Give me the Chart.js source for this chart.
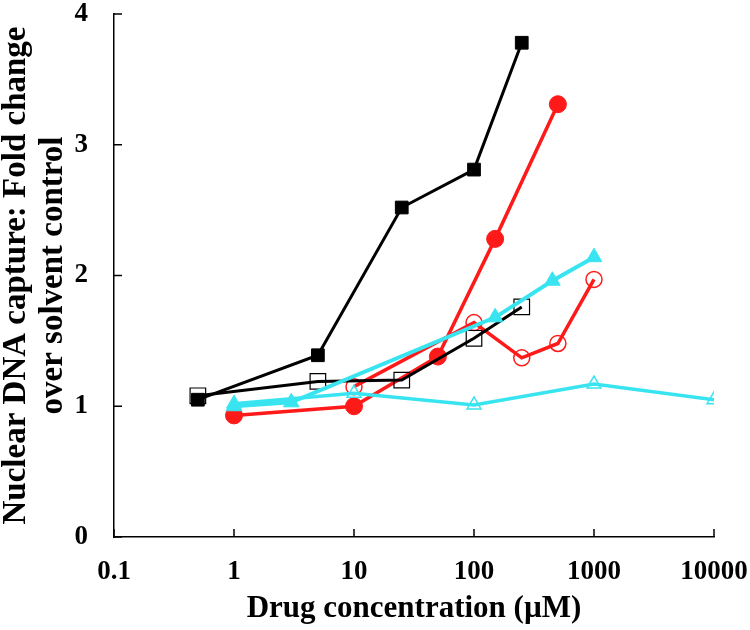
<!DOCTYPE html>
<html>
<head>
<meta charset="utf-8">
<script src="https://cdn.jsdelivr.net/npm/chart.js@4"></script>
<style>
  html, body { margin: 0; padding: 0; background: #fff; }
  #wrap { width: 750px; height: 630px; }
</style>
</head>
<body>
<div id="wrap"><canvas id="dnaChart" width="750" height="630"></canvas></div>
<script>
// Data
const xTicks = [0.1, 1, 10, 100, 1000, 10000];

const blackFilledX = [0.5, 5, 25, 100, 250];
const blackFilledY = [1.05, 1.39, 2.52, 2.81, 3.78];

const blackOpenX = [0.5, 5, 25, 100, 250];
const blackOpenY = [1.08, 1.19, 1.20, 1.52, 1.76];

const redFilledX = [1, 10, 50, 150, 500];
const redFilledY = [0.93, 1.00, 1.38, 2.28, 3.31];

const redOpenX = [10, 100, 250, 500, 1000];
const redOpenY = [1.15, 1.64, 1.37, 1.48, 1.97];

const cyanFilledX = [1, 3, 150, 450, 1000];
const cyanFilledY = [1.00, 1.03, 1.68, 1.96, 2.14];

const cyanOpenX = [1, 10, 100, 1000, 10000];
const cyanOpenY = [1.02, 1.10, 1.01, 1.17, 1.05];

const CYAN = "#38e4f0";
const RED = "#ff1a1a";
const FONT = "Liberation Serif";

function pts(xs, ys) {
  return xs.map((x, i) => ({ x: x, y: ys[i] }));
}

// short inward tick marks, like the original plot
const innerTicks = {
  id: "innerTicks",
  afterDraw(chart) {
    const ctx = chart.ctx;
    const xs = chart.scales.x;
    const ys = chart.scales.y;
    ctx.save();
    ctx.strokeStyle = "#000";
    ctx.lineWidth = 1.5;
    xTicks.forEach((v) => {
      const px = xs.getPixelForValue(v);
      ctx.beginPath();
      ctx.moveTo(px, ys.bottom);
      ctx.lineTo(px, ys.bottom - 8);
      ctx.stroke();
    });
    ys.ticks.forEach((t) => {
      const py = ys.getPixelForValue(t.value);
      ctx.beginPath();
      ctx.moveTo(xs.left, py);
      ctx.lineTo(xs.left + 8, py);
      ctx.stroke();
    });
    ctx.restore();
  },
};

const ctx = document.getElementById("dnaChart").getContext("2d");

new Chart(ctx, {
  type: "line",
  data: {
    datasets: [
      {
        data: pts(cyanOpenX, cyanOpenY),
        borderColor: CYAN,
        borderWidth: 3.5,
        pointStyle: "triangle",
        pointRadius: 8,
        pointBorderWidth: 1.5,
        pointBorderColor: CYAN,
        pointBackgroundColor: "rgba(0,0,0,0)",
      },
      {
        data: pts(cyanFilledX, cyanFilledY),
        borderColor: CYAN,
        borderWidth: 4,
        pointStyle: "triangle",
        pointRadius: 9,
        pointBorderWidth: 1,
        pointBorderColor: CYAN,
        pointBackgroundColor: CYAN,
      },
      {
        data: pts(blackOpenX, blackOpenY),
        borderColor: "#000",
        borderWidth: 3,
        pointStyle: "rect",
        pointRadius: 11,
        pointBorderWidth: 1.2,
        pointBorderColor: "#000",
        pointBackgroundColor: "rgba(0,0,0,0)",
      },
      {
        data: pts(blackFilledX, blackFilledY),
        borderColor: "#000",
        borderWidth: 3,
        pointStyle: "rect",
        pointRadius: 9,
        pointBorderWidth: 1,
        pointBorderColor: "#000",
        pointBackgroundColor: "#000",
      },
      {
        data: pts(redOpenX, redOpenY),
        borderColor: RED,
        borderWidth: 3.5,
        pointStyle: "circle",
        pointRadius: 8,
        pointBorderWidth: 1.5,
        pointBorderColor: RED,
        pointBackgroundColor: "rgba(0,0,0,0)",
      },
      {
        data: pts(redFilledX, redFilledY),
        borderColor: RED,
        borderWidth: 3.5,
        pointStyle: "circle",
        pointRadius: 8.5,
        pointBorderWidth: 1,
        pointBorderColor: RED,
        pointBackgroundColor: RED,
      },
    ],
  },
  options: {
    responsive: false,
    animation: false,
    layout: { padding: { top: 14, right: 36, left: 0, bottom: 0 } },
    plugins: {
      legend: { display: false },
      tooltip: { enabled: false },
    },
    elements: { line: { tension: 0 } },
    scales: {
      x: {
        type: "logarithmic",
        min: 0.1,
        max: 10000,
        afterBuildTicks: (scale) => {
          scale.ticks = xTicks.map((v) => ({ value: v }));
        },
        afterFit: (scale) => {
          scale.height = 93;
          scale.paddingLeft = 0;
          scale.paddingRight = 0;
        },
        grid: { display: false, drawTicks: false },
        border: { display: true, color: "#000", width: 1.5 },
        ticks: {
          color: "#000",
          padding: 19,
          autoSkip: false,
          maxRotation: 0,
          font: { family: FONT, size: 27, weight: "bold" },
          callback: (v) => String(v),
        },
        title: {
          display: true,
          text: "Drug concentration (\u00b5M)",
          color: "#000",
          padding: { top: 0, bottom: 2 },
          font: { family: FONT, size: 31, weight: "bold" },
        },
      },
      y: {
        min: 0,
        max: 4,
        afterFit: (scale) => {
          scale.width = 114;
          scale.paddingTop = 0;
          scale.paddingBottom = 0;
        },
        grid: { display: false, drawTicks: false },
        border: { display: true, color: "#000", width: 1.5 },
        ticks: {
          stepSize: 1,
          color: "#000",
          padding: 26,
          font: { family: FONT, size: 27, weight: "bold" },
        },
        title: {
          display: true,
          text: ["Nuclear DNA capture: Fold change", "over solvent control"],
          color: "#000",
          padding: { top: -3, bottom: 0 },
          font: { family: FONT, size: 33, weight: "bold", lineHeight: 1.15 },
        },
      },
    },
  },
  plugins: [innerTicks],
});
</script>
</body>
</html>
